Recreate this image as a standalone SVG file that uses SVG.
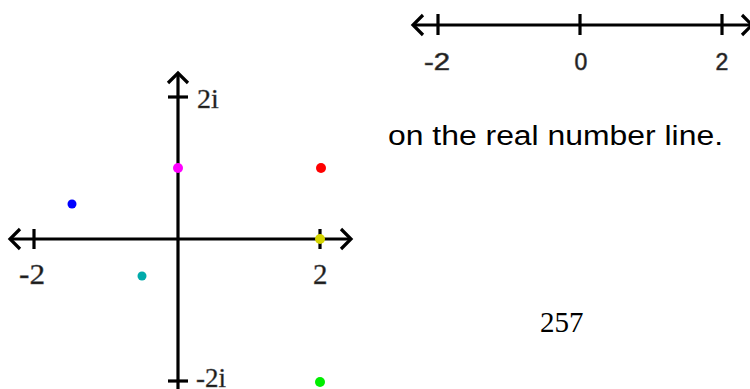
<svg xmlns="http://www.w3.org/2000/svg" width="750" height="389" viewBox="0 0 750 389">
<style>
.ax{stroke:#000;stroke-width:3.2;fill:none;stroke-linecap:butt;stroke-linejoin:miter}
.tk{stroke:#000;stroke-width:3.2;fill:none}
.lblS{font-family:"Liberation Serif",serif;fill:#1a1a1a;stroke:#555;stroke-width:0.4}
.lblN{font-family:"Liberation Sans",Arial,sans-serif;fill:#1a1a1a;stroke:#444;stroke-width:0.6}
.txt{font-family:"Liberation Sans",Arial,sans-serif;fill:#000}
</style>
<rect width="750" height="389" fill="#fff"/>
<g id="complex-plane">
  <g id="axes">
    <line class="ax" x1="10" y1="239" x2="351" y2="239"/>
    <polyline class="ax" points="20,229 10,239 20,249"/>
    <polyline class="ax" points="341,229 351,239 341,249"/>
    <line class="ax" x1="178" y1="73" x2="178" y2="389"/>
    <polyline class="ax" points="168,83 178,73 188,83"/>
    <line class="tk" x1="34" y1="229" x2="34" y2="249"/>
    <line class="tk" x1="320" y1="229" x2="320" y2="249"/>
    <line class="tk" x1="168" y1="97" x2="188" y2="97"/>
    <line class="tk" x1="168" y1="381" x2="188" y2="381"/>
  </g>
  <g id="plane-labels">
    <text class="lblS" x="197" y="108" font-size="28">2i</text>
    <text class="lblS" x="19" y="284" font-size="29" textLength="26" lengthAdjust="spacingAndGlyphs">-2</text>
    <text class="lblS" x="313" y="284" font-size="29">2</text>
    <text class="lblS" x="196" y="387" font-size="27">-2i</text>
  </g>
  <g id="points">
    <circle cx="178" cy="168" r="5" fill="#ff00ff"/>
    <circle cx="321" cy="168" r="5" fill="#ff0000"/>
    <circle cx="72" cy="204" r="4.5" fill="#0000ff"/>
    <circle cx="320" cy="239" r="5" fill="#d4d400"/>
    <circle cx="142" cy="276" r="4.5" fill="#00aaaa"/>
    <circle cx="320" cy="382" r="5" fill="#00ee00"/>
  </g>
</g>
<g id="real-line">
  <line class="ax" x1="413" y1="25" x2="750" y2="25"/>
  <polyline class="ax" points="423,15 413,25 423,35"/>
  <polyline class="ax" points="742,15 752,25 742,35"/>
  <line class="tk" x1="438" y1="14" x2="438" y2="35"/>
  <line class="tk" x1="580" y1="14" x2="580" y2="35"/>
  <line class="tk" x1="722" y1="14" x2="722" y2="35"/>
  <text class="lblN" x="424" y="70" font-size="23" textLength="26" lengthAdjust="spacingAndGlyphs">-2</text>
  <text class="lblN" x="581" y="70" font-size="23" text-anchor="middle">0</text>
  <text class="lblN" x="722" y="70" font-size="23" text-anchor="middle">2</text>
</g>
<text id="caption" class="txt" x="388" y="145" font-size="27" textLength="335" lengthAdjust="spacingAndGlyphs">on the real number line.</text>
<text id="page-number" x="540" y="332" font-family="'Liberation Serif',serif" font-size="29" fill="#000">257</text>
</svg>
